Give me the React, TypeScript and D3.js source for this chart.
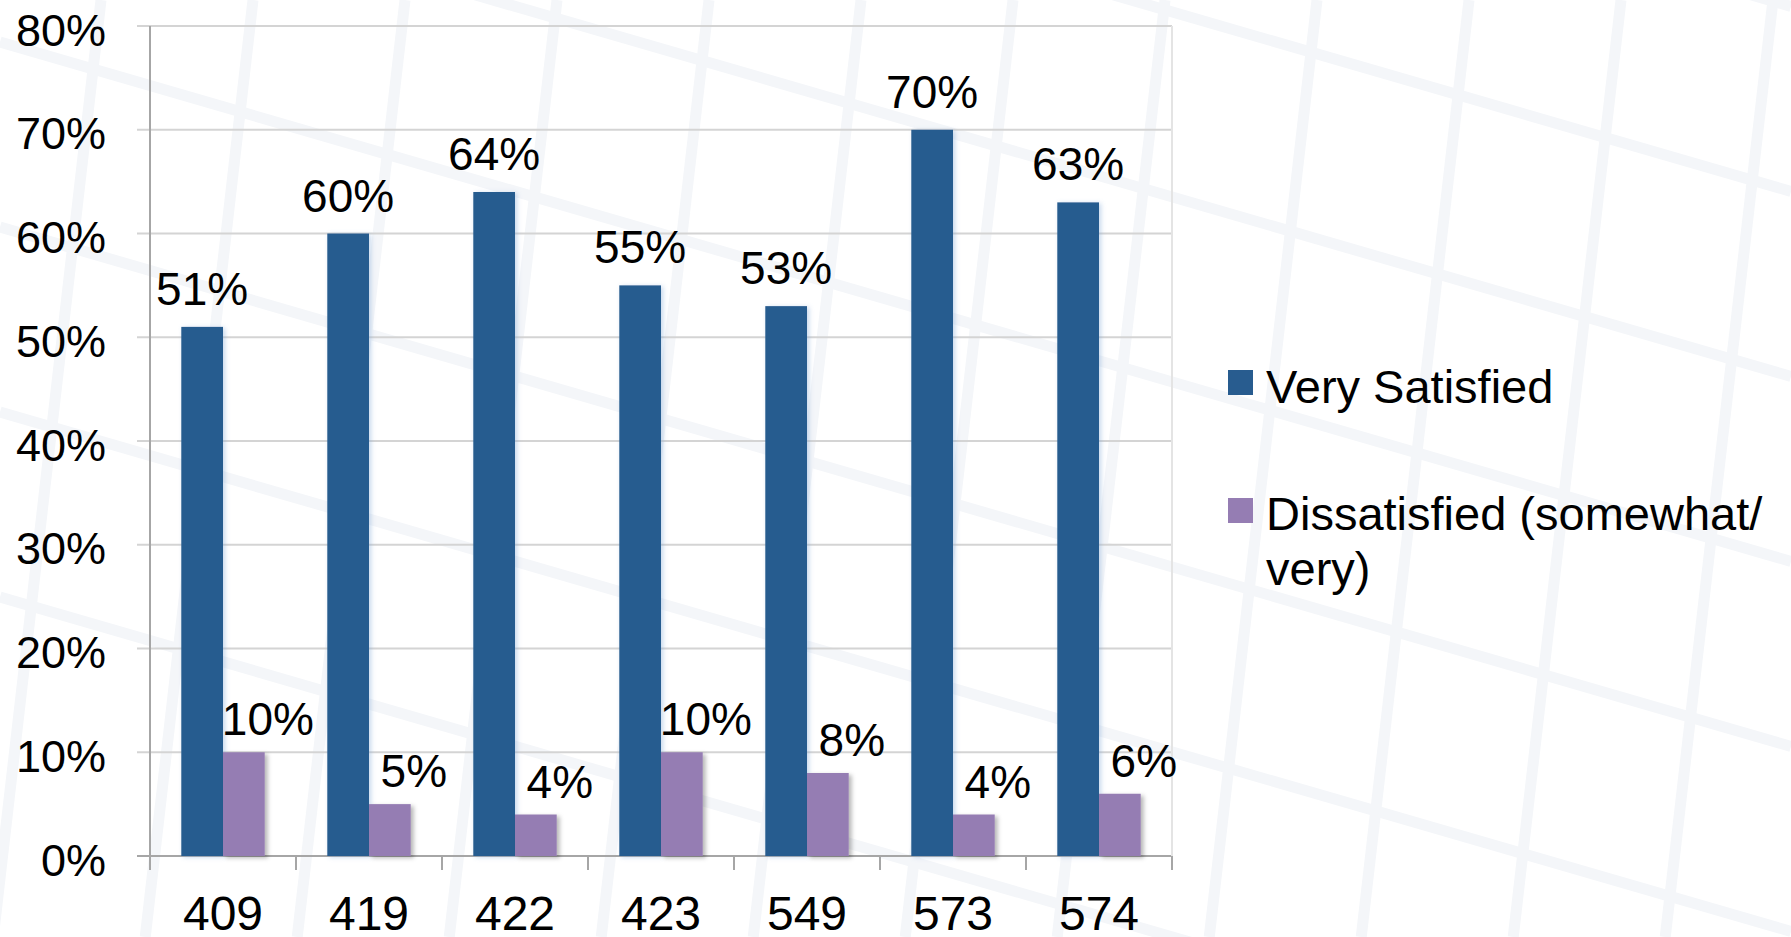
import React from 'react';
import { scaleBand, scaleLinear, format, range } from 'd3';

const width = 1791;
const height = 937;

const categories = ['409', '419', '422', '423', '549', '573', '574'];
const verySatisfied = [0.51, 0.6, 0.64, 0.55, 0.53, 0.7, 0.63];
const dissatisfied = [0.1, 0.05, 0.04, 0.1, 0.08, 0.04, 0.06];
const seriesKeys = ['very', 'dissatisfied'];
const yTicks = [0, 0.1, 0.2, 0.3, 0.4, 0.5, 0.6, 0.7, 0.8];

const blue = '#285c8f';
const purple = '#957db3';
const font = '"Liberation Sans", Arial, sans-serif';

const plotLeft = 150;
const plotRight = 1172;
const plotTop = 26;
const plotBottom = 856;

const x = scaleBand<string>().domain(categories).range([plotLeft, plotRight]);
const x1 = scaleBand<string>()
  .domain(seriesKeys)
  .range([0, x.bandwidth()])
  .paddingInner(0)
  .paddingOuter(0.75);
const y = scaleLinear().domain([0, 0.8]).range([plotBottom, plotTop]);
const pct = format('.0%');

// faint slide background grid (decoration only)
const bgHoriz = range(-6, 6).map(i => ({ y0: 12 + i * 185 - 340, slope: 0.29 }));
const bgVert = range(-2, 12).map(i => ({ x0: 1317 - (8 - i) * 152, slope: -0.115 }));

const App = () => (
  <svg
    width={width}
    height={height}
    style={{ position: 'absolute', left: 0, top: 0, background: '#fff' }}
  >
    <defs>
      <filter id="shadow" x="-20%" y="-5%" width="150%" height="120%">
        <feDropShadow dx="3" dy="2" stdDeviation="2" floodColor="#000" floodOpacity="0.28" />
      </filter>
      <filter id="glow" x="-20%" y="-5%" width="150%" height="120%">
        <feDropShadow dx="2" dy="1" stdDeviation="2.5" floodColor="#7fa6d6" floodOpacity="0.45" />
      </filter>
    </defs>

    <g stroke="#f4f6f9" strokeWidth={11} fill="none">
      {bgHoriz.map((l, i) => (
        <line key={'h' + i} x1={0} y1={l.y0} x2={width} y2={l.y0 + l.slope * width} />
      ))}
      {bgVert.map((l, i) => (
        <line key={'v' + i} x1={l.x0} y1={0} x2={l.x0 + l.slope * height} y2={height} />
      ))}
    </g>

    {/* gridlines */}
    <g>
      {yTicks.map(t => (
        <line
          key={t}
          x1={plotLeft - 13}
          x2={plotRight}
          y1={y(t)}
          y2={y(t)}
          stroke={t === 0 ? '#a6a6a6' : '#d4d4d4'}
          strokeWidth={2}
        />
      ))}
      <line x1={plotRight} x2={plotRight} y1={plotTop} y2={plotBottom} stroke="#e4e4e4" strokeWidth={2} />
      <line x1={plotLeft} x2={plotLeft} y1={plotTop} y2={plotBottom + 14} stroke="#a6a6a6" strokeWidth={2} />
      {categories.map(c => (
        <line
          key={c}
          x1={(x(c) as number) + x.bandwidth()}
          x2={(x(c) as number) + x.bandwidth()}
          y1={plotBottom}
          y2={plotBottom + 14}
          stroke="#a6a6a6"
          strokeWidth={2}
        />
      ))}
    </g>

    {/* y tick labels */}
    <g fontFamily={font} fontSize={45} fill="#000" textAnchor="end">
      {yTicks.map(t => (
        <text key={t} x={106} y={y(t) + 19.5}>
          {pct(t)}
        </text>
      ))}
    </g>

    {/* bars */}
    {categories.map((c, i) => {
      const bx = x(c) as number;
      const xv = bx + (x1('very') as number);
      const xd = bx + (x1('dissatisfied') as number);
      const bw = x1.bandwidth();
      return (
        <g key={c}>
          <rect
            x={xv}
            y={y(verySatisfied[i])}
            width={bw}
            height={plotBottom - y(verySatisfied[i])}
            fill={blue}
            filter="url(#glow)"
          />
          <rect
            x={xd}
            y={y(dissatisfied[i])}
            width={bw}
            height={plotBottom - y(dissatisfied[i])}
            fill={purple}
            filter="url(#shadow)"
          />
          <text
            x={xv + bw / 2}
            y={y(verySatisfied[i]) - 22}
            textAnchor="middle"
            fontFamily={font}
            fontSize={46}
          >
            {pct(verySatisfied[i])}
          </text>
          <text
            x={xd + bw / 2 + 24}
            y={y(dissatisfied[i]) - 17}
            textAnchor="middle"
            fontFamily={font}
            fontSize={46}
          >
            {pct(dissatisfied[i])}
          </text>
          <text
            x={bx + x.bandwidth() / 2}
            y={930}
            textAnchor="middle"
            fontFamily={font}
            fontSize={48}
          >
            {c}
          </text>
        </g>
      );
    })}

    {/* legend */}
    <g fontFamily={font} fontSize={47}>
      <rect x={1228} y={370} width={25} height={25} fill={blue} />
      <text x={1266} y={403}>Very Satisfied</text>
      <rect x={1228} y={498} width={25} height={25} fill={purple} />
      <text x={1266} y={530}>
        <tspan x={1266}>Dissatisfied (somewhat/</tspan>
        <tspan x={1266} dy={55}>very)</tspan>
      </text>
    </g>
  </svg>
);

export default App;
